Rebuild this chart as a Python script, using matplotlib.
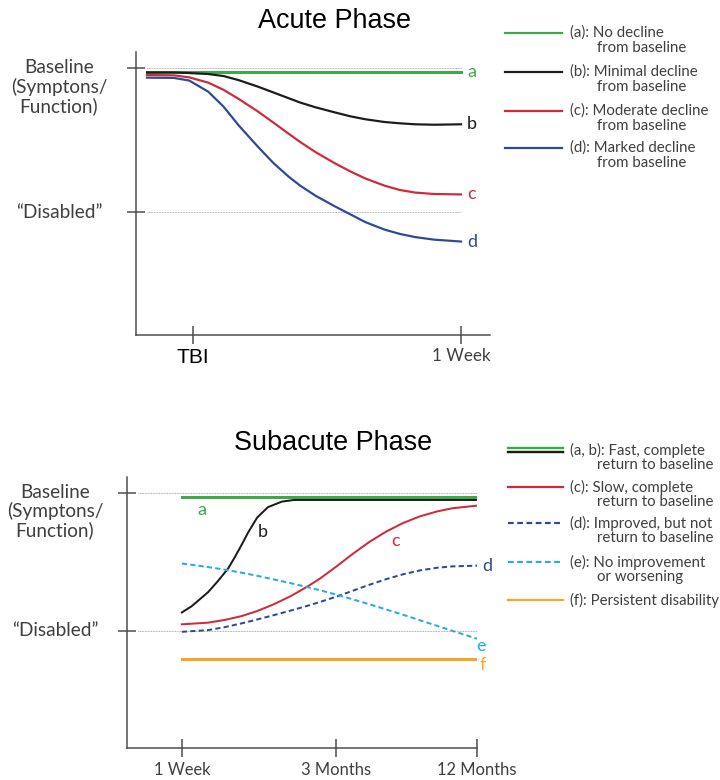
import matplotlib
matplotlib.use("Agg")
import matplotlib.pyplot as plt
from matplotlib.lines import Line2D
from matplotlib.transforms import Affine2D

# score: 1 = baseline (symptoms/function), 0 = "disabled"
# acute phase, x in days after the injury (TBI = 0, 1 week = 7)
acute_days = [-1.2, -0.5, -0.1, 0.4, 0.8, 1.2, 1.7, 2.1, 2.5, 2.8,
              3.2, 3.7, 4.1, 4.5, 5.0, 5.4, 5.8, 6.3, 7.0]
acute_b = [0.969, 0.969, 0.965, 0.958, 0.944, 0.915, 0.870, 0.830, 0.790, 0.760,
           0.727, 0.692, 0.665, 0.644, 0.625, 0.616, 0.609, 0.606, 0.609]
acute_c = [0.951, 0.949, 0.935, 0.898, 0.848, 0.784, 0.697, 0.621, 0.543, 0.486,
           0.416, 0.339, 0.283, 0.233, 0.183, 0.153, 0.135, 0.125, 0.122]
acute_d = [0.933, 0.931, 0.913, 0.835, 0.731, 0.599, 0.452, 0.340, 0.245, 0.183,
           0.113, 0.040, -0.015, -0.070, -0.122, -0.152, -0.174, -0.192, -0.205]
acute_a_days = [-1.2, 7.0]
acute_a = [0.972, 0.972]
acute_ticks = ["TBI", "1 Week"]
acute_tick_days = [0, 7]

# subacute phase, x = position on the time axis (1 week = 0, 3 months = 1, 12 months = 1.92)
sub_b_x = [0, 0.065, 0.17, 0.23, 0.30, 0.34, 0.39, 0.43, 0.49, 0.56, 0.65, 0.73, 1.92]
sub_b = [0.134, 0.18, 0.28, 0.355, 0.45, 0.525, 0.625, 0.71, 0.82, 0.895, 0.935, 0.947, 0.947]
sub_x = [0, 0.17, 0.28, 0.39, 0.49, 0.60, 0.71, 0.82, 0.90,
         1.01, 1.11, 1.22, 1.33, 1.44, 1.55, 1.66, 1.76, 1.92]
sub_c = [0.048, 0.060, 0.080, 0.108, 0.144, 0.194, 0.253, 0.323, 0.380,
         0.470, 0.556, 0.644, 0.719, 0.781, 0.829, 0.864, 0.887, 0.906]
sub_d = [-0.006, 0.006, 0.028, 0.055, 0.083, 0.115, 0.148, 0.183, 0.210,
         0.250, 0.290, 0.334, 0.375, 0.410, 0.438, 0.457, 0.467, 0.472]
sub_e = [0.488, 0.462, 0.443, 0.421, 0.399, 0.372, 0.345, 0.316, 0.294,
         0.261, 0.229, 0.193, 0.155, 0.117, 0.077, 0.037, 0.001, -0.056]
sub_flat_x = [0, 1.92]
sub_a = [0.967, 0.967]
sub_f = [-0.205, -0.205]
sub_ticks = ["1 Week", "3 Months", "12 Months"]
sub_tick_x = [0, 1.0, 1.92]

acute_legend = [("(a): No decline", "from baseline"),
                ("(b): Minimal decline", "from baseline"),
                ("(c): Moderate decline", "from baseline"),
                ("(d): Marked decline", "from baseline")]
sub_legend = [("(a, b): Fast, complete", "return to baseline"),
              ("(c): Slow, complete", "return to baseline"),
              ("(d): Improved, but not", "return to baseline"),
              ("(e): No improvement", "or worsening"),
              ("(f): Persistent disability", None)]

GREEN = "#3daa48"
BLACK = "#1c1c1c"
RED = "#d0293a"
BLUE = "#2c4a97"
LBLUE = "#27aae1"
ORANGE = "#f6a623"
GREY = "#3f3f3f"
BODY = "Lato"
HEAD = "Liberation Sans"
DASH = (2.6, 1.6)

# dpi 72 -> one point is one pixel
fig = plt.figure(figsize=(10, 780 / 72), dpi=72)
tpx = Affine2D().scale(1 / 720, -1 / 780).translate(0, 1) + fig.transFigure


def style_axes(ax):
    for s in ("top", "right"):
        ax.spines[s].set_visible(False)
    for s in ("left", "bottom"):
        ax.spines[s].set_color("#4a4a4a")
        ax.spines[s].set_linewidth(1.5)
    ax.tick_params(direction="inout", length=18, width=1.5, color="#4a4a4a")
    ax.set_yticks([0, 1])
    ax.set_yticklabels([])


def y_labels(ax, dx, ls):
    tr = ax.get_yaxis_transform()
    ax.annotate("Baseline\n(Symptons/\nFunction)", xy=(0, 1), xycoords=tr,
                xytext=(dx, 9), textcoords="offset points", ha="center", va="top",
                fontsize=19, family=BODY, color=GREY, linespacing=ls)
    ax.annotate("\u201cDisabled\u201d", xy=(0, 0), xycoords=tr,
                xytext=(dx, 0), textcoords="offset points", ha="center", va="center",
                fontsize=19, family=BODY, color=GREY)


def end_label(ax, x, y, s, color, dx=6, dy=0):
    ax.annotate(s, xy=(x, y), xytext=(dx, dy), textcoords="offset points",
                ha="left", va="center", fontsize=18, family=BODY, color=color,
                annotation_clip=False)


# ---------------- acute phase ----------------
ax1 = fig.add_axes([136 / 720, 1 - 335 / 780, 354 / 720, 283 / 780])
style_axes(ax1)
ax1.set_xlim(-1.489, 7.757)
ax1.set_ylim(-0.854, 1.111)
for yref in (0, 1):
    ax1.plot([acute_days[0], acute_days[-1]], [yref, yref], ls=(0, (1, 1)), color="#8a8a8a", lw=0.8)
ax1.plot(acute_a_days, acute_a, color=GREEN, lw=3)
ax1.plot(acute_days, acute_b, color=BLACK, lw=2.2, solid_joinstyle="round")
ax1.plot(acute_days, acute_c, color=RED, lw=2.2, solid_joinstyle="round")
ax1.plot(acute_days, acute_d, color=BLUE, lw=2.2, solid_joinstyle="round")
ax1.set_xticks(acute_tick_days)
ax1.set_xticklabels(acute_ticks)
ax1.tick_params(axis="x", pad=4)
tl = ax1.get_xticklabels()
tl[0].set_fontfamily(HEAD)
tl[0].set_fontsize(21)
tl[0].set_color("black")
tl[1].set_fontfamily(BODY)
tl[1].set_fontsize(17)
tl[1].set_color(GREY)
y_labels(ax1, -77, 1.1)
end_label(ax1, acute_a_days[-1], acute_a[-1], "a", GREEN)
end_label(ax1, acute_days[-1], acute_b[-1], "b", BLACK)
end_label(ax1, acute_days[-1], acute_c[-1], "c", RED)
end_label(ax1, acute_days[-1], acute_d[-1], "d", BLUE)
fig.text(335 / 720, 1 - 21 / 780, "Acute Phase", ha="center", va="center",
         fontsize=27, family=HEAD, color="black")

# ---------------- subacute phase ----------------
ax2 = fig.add_axes([127 / 720, 1 - 748 / 780, 350 / 720, 271 / 780])
style_axes(ax2)
ax2.set_xlim(-0.357, 1.92)
ax2.set_ylim(-0.846, 1.113)
for yref in (0, 1):
    ax2.plot([-0.286, 1.92], [yref, yref], ls=(0, (1, 1)), color="#8a8a8a", lw=0.8)
ax2.plot(sub_flat_x, sub_a, color=GREEN, lw=3)
ax2.plot(sub_b_x, sub_b, color=BLACK, lw=2, solid_joinstyle="round")
ax2.plot(sub_x, sub_c, color=RED, lw=2, solid_joinstyle="round")
ax2.plot(sub_x, sub_d, color=BLUE, lw=2, dashes=DASH)
ax2.plot(sub_x, sub_e, color=LBLUE, lw=2, dashes=DASH)
ax2.plot(sub_flat_x, sub_f, color=ORANGE, lw=3)
ax2.set_xticks(sub_tick_x)
ax2.set_xticklabels(sub_ticks, fontsize=16.5, family=BODY, color=GREY)
ax2.tick_params(axis="x", pad=5)
y_labels(ax2, -72, 1.07)
ax2.text(0.13, 0.875, "a", color=GREEN, fontsize=18, family=BODY, ha="center", va="center")
ax2.text(0.526, 0.716, "b", color=BLACK, fontsize=18, family=BODY, ha="center", va="center")
ax2.text(1.39, 0.651, "c", color=RED, fontsize=18, family=BODY, ha="center", va="center")
end_label(ax2, sub_x[-1], sub_d[-1], "d", BLUE, dx=5)
end_label(ax2, sub_x[-1], sub_e[-1], "e", LBLUE, dx=-1, dy=-7)
end_label(ax2, sub_flat_x[-1], sub_f[-1], "f", ORANGE, dx=3, dy=-6)
fig.text(333 / 720, 1 - 443 / 780, "Subacute Phase", ha="center", va="center",
         fontsize=27, family=HEAD, color="black")


# ---------------- legends (drawn in pixel coordinates) ----------------
def legend_entry(y, text, x0, x1, colors, dashed=False, lw=2.2):
    for i, c in enumerate(colors):
        yy = y + (i - (len(colors) - 1) / 2) * 4
        ln = Line2D([x0, x1], [yy, yy], transform=tpx, color=c, lw=lw)
        if dashed:
            ln.set_dashes(DASH)
        fig.add_artist(ln)
    first, second = text
    fig.text(570, y, first, transform=tpx, ha="left", va="center",
             fontsize=15, family=BODY, color=GREY)
    if second:
        fig.text(597, y + 15, second, transform=tpx, ha="left", va="center",
                 fontsize=15, family=BODY, color=GREY)


for y, text, c in zip([33, 72, 111, 148], acute_legend, [GREEN, BLACK, RED, BLUE]):
    legend_entry(y, text, 505, 562, [c])

legend_entry(450, sub_legend[0], 508, 563, [GREEN, BLACK], lw=2.4)
legend_entry(487, sub_legend[1], 508, 563, [RED])
legend_entry(523, sub_legend[2], 508, 563, [BLUE], dashed=True)
legend_entry(562, sub_legend[3], 508, 563, [LBLUE], dashed=True)
legend_entry(600, sub_legend[4], 508, 563, [ORANGE])

fig.savefig("out.png", dpi=72)
